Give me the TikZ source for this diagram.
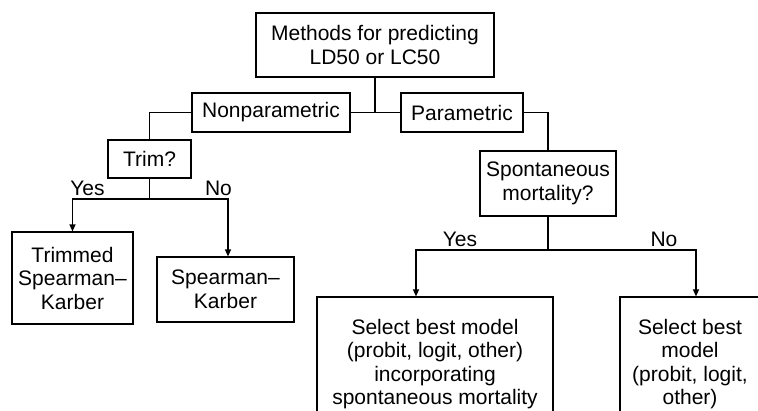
\documentclass[tikz,border=0pt]{standalone}
\usepackage{fontspec}
\setmainfont{Liberation Sans}
\usetikzlibrary{arrows.meta}
\begin{document}
\begin{tikzpicture}[x=1pt,y=-1pt,
  box/.style={draw,line width=1.2pt,inner sep=0pt,align=center,font=\fontsize{21}{23.5}\selectfont},
  conn/.style={line width=1.2pt},
  arr/.style={conn,-{Triangle[length=7pt,width=6pt]}},
  lab/.style={font=\fontsize{21}{23.5}\selectfont,inner sep=0pt}]
\useasboundingbox (0,0) rectangle (758,410);
\clip (0,0) rectangle (758,410);
\node[box,minimum width=238pt,minimum height=64pt] (top) at (375,45) {Methods for predicting\\LD50 or LC50};
\node[box,minimum width=158pt,minimum height=39pt] (np) at (271,112.5) {Nonparametric};
\node[box,minimum width=122pt,minimum height=39pt] (par) at (462,112.5) {Parametric};
\node[box,minimum width=83pt,minimum height=38pt] (trim) at (149.5,159) {Trim?};
\node[box,minimum width=121pt,minimum height=92pt] (trimmed) at (72.5,278) {Trimmed\\Spearman–\\Karber};
\node[box,minimum width=137pt,minimum height=65pt] (spear) at (225.5,289.5) {Spearman–\\Karber};
\node[box,minimum width=136pt,minimum height=65pt] (spont) at (548,183.5) {Spontaneous\\mortality?};
\node[box,minimum width=236pt,minimum height=134pt] (sel1) at (435,364) {Select best model\\(probit, logit, other)\\incorporating\\spontaneous mortality};
\node[box,minimum width=140pt,minimum height=134pt] (sel2) at (690,364) {Select best\\model\\(probit, logit,\\other)};
\coordinate (j1) at (top.south |- np.east);
\draw[conn] (top.south) -- (j1);
\draw[conn] (np.east) -- (par.west);
\draw[conn] (np.west) -| (trim.north);
\draw[conn] (par.east) -| (spont.north);
\coordinate (tj) at (149.5,199);
\draw[conn] (trim.south) -- (tj);
\draw[arr] (tj) -| (trimmed.north);
\draw[arr] (tj) -| ([xshift=2.5pt]spear.north);
\coordinate (sj) at (548,250);
\draw[conn] (spont.south) -- (sj);
\draw[arr] (sj) -| ([xshift=-19pt]sel1.north);
\draw[arr] (sj) -| ([xshift=6pt]sel2.north);
\node[lab] (y1) at (87.5,188.5) {Yes};
\node[lab] (n1) at (218.5,188.5) {No};
\node[lab] (y2) at (460,239.5) {Yes};
\node[lab] (n2) at (664,239.5) {No};
\end{tikzpicture}
\end{document}
